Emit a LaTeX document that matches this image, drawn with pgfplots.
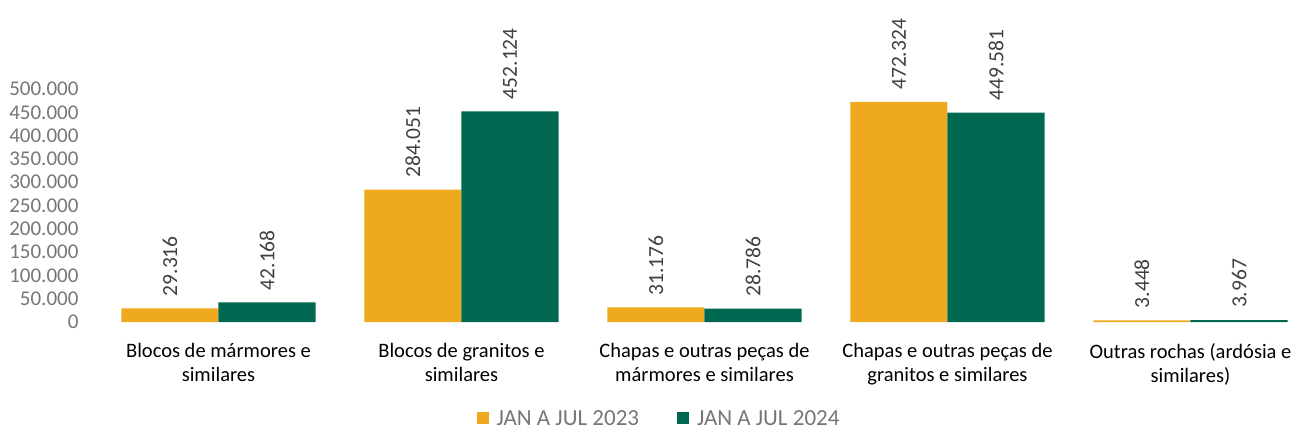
\documentclass[border=0pt]{standalone}
\usepackage{pgfplots}
\pgfplotsset{compat=1.18}
\usepackage{fontspec}
\setmainfont{Carlito}
\definecolor{cOrange}{RGB}{239,169,30}
\definecolor{cGreen}{RGB}{0,104,80}
\definecolor{tickgray}{RGB}{118,118,118}
\definecolor{labgray}{RGB}{64,64,64}
\begin{document}
\begin{tikzpicture}
\useasboundingbox (0,0) rectangle (1295pt,432pt);
\begin{axis}[
  at={(97pt,110pt)}, anchor=south west,
  scale only axis,
  width=1215pt, height=233pt,
  xmin=-0.5, xmax=4.5,
  ymin=0, ymax=500000,
  ybar=0pt, bar width=0.4,
  axis line style={draw=none},
  major tick length=0pt,
  xtick={0,1,2,3,4},
  xticklabels={{Blocos de mármores e\\similares},{Blocos de granitos e\\similares},{Chapas e outras peças de\\mármores e similares},{Chapas e outras peças de\\granitos e similares},{Outras rochas (ardósia e\\similares)}},
  xticklabel style={align=center, font=\fontsize{20.5}{24}\selectfont, text=black, yshift=-18pt},
  ytick={0,50000,...,500000},
  scaled ticks=false,
  yticklabel style={font=\fontsize{21}{24}\selectfont, text=tickgray, xshift=-15pt},
  /pgf/number format/.cd, fixed, precision=0, 1000 sep={.}, assume math mode=true,
  /pgfplots/.cd,
  clip=false,
  nodes near coords,
  every node near coord/.append style={rotate=90, anchor=west, inner xsep=12pt, inner ysep=0pt, font=\fontsize{21.5}{24}\selectfont, text=labgray},
  legend columns=2,
  legend style={at={(axis description cs:0.4626,-0.415)}, anchor=center, draw=none, fill=none, font=\fontsize{23}{26}\selectfont, text=tickgray, /tikz/every odd column/.append style={column sep=6pt}, /tikz/every even column/.append style={column sep=36pt}, inner sep=0pt},
  legend image code/.code={\draw[#1, draw=none] (0pt,-5pt) rectangle (12pt,7pt);},
]
\addplot[fill=cOrange, draw=none] coordinates {(0,29316) (1,284051) (2,31176) (3,472324) (4,3448)};
\addplot[fill=cGreen, draw=none] coordinates {(0,42168) (1,452124) (2,28786) (3,449581) (4,3967)};
\legend{JAN A JUL 2023, JAN A JUL 2024}
\end{axis}
\end{tikzpicture}
\end{document}
